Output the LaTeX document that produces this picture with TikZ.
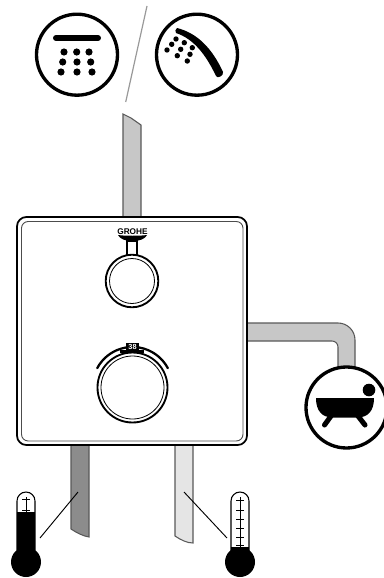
\documentclass[tikz,border=0pt]{standalone}
\usepackage{fontspec}
\setmainfont{Liberation Sans}
\tikzset{
  px/.style={x=0.75pt,y=-0.75pt},
  ring/.style={draw=black,line width=2.5pt,fill=white},
  pipe/.style={draw=black!65,line width=0.8pt},
  thin/.style={draw=black,line width=0.9pt},
  greyline/.style={draw=black!40,line width=0.9pt},
  knob/.style={draw=black,line width=1.4pt,fill=white},
  knobin/.style={draw=black,line width=0.6pt,fill=white},
  therm/.style={draw=black,line width=0.8pt,fill=white},
  tick/.style={draw=black,line width=0.6pt},
  logo/.style={font=\bfseries\fontsize{6.2}{6.2}\selectfont,inner sep=0pt,text=black}
}
\begin{document}
\begin{tikzpicture}[px]
\useasboundingbox (0,0) rectangle (384,578);
\clip (0,0) rectangle (384,578);
% pipes
\draw[pipe,fill=black!22] (123,114) -- (123,218) -- (141,218) -- (141,125) -- (131,118) -- cycle;
\draw[pipe,fill=black!22] (246,323) -- (338,323) arc[start angle=-90,end angle=0,radius=17] -- (355,372) -- (338,372) -- (338,347) arc[start angle=0,end angle=-90,radius=6] -- (246,341) -- cycle;
\draw[pipe,fill=black!45] (71,445) -- (71,529) .. controls (77,533) and (83,536) .. (89,537) -- (89,445) -- cycle;
\draw[pipe,fill=black!10] (175,445) -- (175,536) .. controls (181,540) and (187,543) .. (193,543) -- (193,445) -- cycle;
% plate
\draw[line width=1.3pt,fill=white,rounded corners=7pt] (17,217) rectangle (247,445);
\draw[draw=black!70,line width=0.7pt,rounded corners=5pt] (21.5,221.5) rectangle (243,441);
% top knob
\node[logo] (brand) at (132.5,231.5) {GROHE};
\fill (118,235) .. controls (124,236) and (141,236) .. (147,235) .. controls (145,239) and (140,241) .. (132.5,241) .. controls (125,241) and (120,239) .. cycle;
\draw[thin,fill=white] (127,241) rectangle (137,256);
\draw[knob] (132,281) circle (26.3);
\draw[knobin] (132,281) circle (22.5);
% bottom knob
\draw[line width=1.7pt,line cap=round] (97.2,368.2) arc[start angle=208,end angle=332,radius=40];
\draw[knob] (132.5,387.5) circle (35);
\draw[knobin] (132.5,387.5) circle (31.5);
\fill (120,350) rectangle (144,352.5);
\fill (126,343) rectangle (139,351);
\node[font=\bfseries\fontsize{5.5}{5.5}\selectfont,text=white,inner sep=0pt] (templabel) at (132.5,347) {38};
% shower icons
\draw[ring] (77,54.7) circle (40.5);
\draw[line width=4.5pt,line cap=round] (56,38) -- (98,38);
\foreach \xx/\yy in {64/52,76.7/52,89/52,62.7/62,77/62,90.7/62,61/72,77/72,92/72}{\fill (\xx,\yy) circle (3.6);}
\draw[ring] (197,54.7) circle (40.5);
\fill (177,28) .. controls (197,33) and (212,48) .. (223,72) .. controls (224,76) and (217,79) .. (216,76) .. controls (206,55) and (194,39) .. (176,33) .. controls (175,32) and (175,29) .. (177,28) -- cycle;
\foreach \xx/\yy in {176/39,171.7/44.3,167/50,184.3/42.7,180.7/49.3,177.3/55.7,192.3/47.7,190/54.3,187.3/61}{\fill (\xx,\yy) circle (2.7);}
\draw[greyline] (147,6) -- (125.7,102);
% bath
\draw[ring] (346.5,407.5) circle (40.5);
\fill (369,390) circle (6.3);
\fill (316,398) -- (374,398) .. controls (374,411) and (368,417.5) .. (357,417.5) -- (333,417.5) .. controls (322,417.5) and (316,411) .. cycle;
\draw[line width=3.8pt,line cap=round] (331,416) -- (324.5,425);
\draw[line width=3.8pt,line cap=round] (358,416) -- (365,425);
% cold thermometer
\draw[therm] (17,550) -- (17,501) arc[start angle=180,end angle=360,radius=9] -- (35,550) -- cycle;
\fill (17,512) rectangle (35,552);
\fill (26,562) circle (15);
\draw[tick] (26,497) -- (26,512) (22,499) -- (30,499) (22,510) -- (30,510);
% hot thermometer
\draw[therm] (231,555) -- (231,501) arc[start angle=180,end angle=360,radius=9] -- (249,555) -- cycle;
\fill (231,547) rectangle (249,556);
\fill (240,562) circle (15);
\draw[tick] (240,497) -- (240,547);
\foreach \yy in {500,510,519,528,537,545}{\draw[tick] (236,\yy) -- (244,\yy);}
% leaders
\coordinate (cA) at (78,492);
\coordinate (cB) at (40,538);
\coordinate (hA) at (184,492);
\coordinate (hB) at (227,538);
\draw[black,line width=0.7pt] (cA) -- (cB);
\draw[black,line width=0.7pt] (hA) -- (hB);
\end{tikzpicture}
\end{document}
